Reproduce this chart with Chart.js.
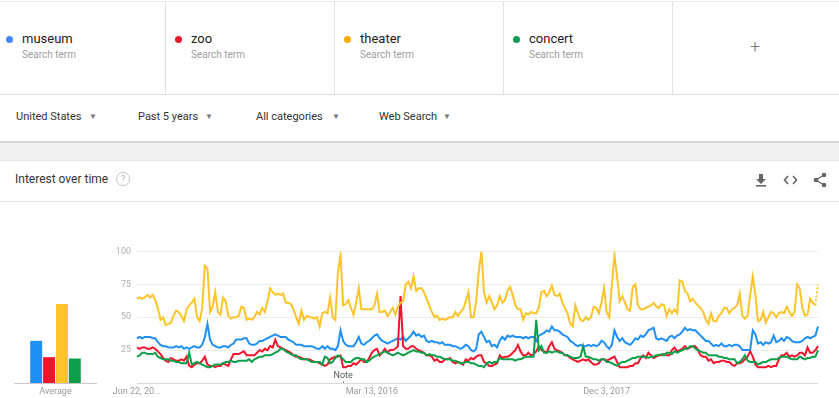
<!DOCTYPE html>
<html>
<head>
<meta charset="utf-8">
<script src="https://cdn.jsdelivr.net/npm/chart.js@4.4.1/dist/chart.umd.min.js"></script>
<style>
  body { margin: 0; width: 839px; height: 398px; overflow: hidden; background: #fff; font-family: Roboto, Arial, sans-serif; position: relative; }
  .abs { position: absolute; }
  .vline { position: absolute; top: 1px; width: 1px; height: 93px; background: #e3e3e3; }
  .dot { position: absolute; width: 7px; height: 7px; border-radius: 50%; }
  .term { position: absolute; font-size: 13px; color: #222; }
  .sub { position: absolute; font-size: 10px; color: #9e9e9e; }
  .filter { position: absolute; top: 110px; font-size: 11px; color: #333; }
  .arrow { position: absolute; top: 112px; font-size: 8px; color: #777; }
</style>
</head>
<body>
<!-- search term row -->
<div class="abs" style="left:0;top:1px;width:839px;height:1px;background:#ececec"></div>
<div class="abs" style="left:0;top:94px;width:839px;height:1px;background:#e0e0e0"></div>
<div class="vline" style="left:165px"></div>
<div class="vline" style="left:334px"></div>
<div class="vline" style="left:503px"></div>
<div class="vline" style="left:672px"></div>
<div id="terms"></div>
<div class="abs" style="left:750px;top:36px;font-size:18px;color:#777;font-weight:300">+</div>

<!-- filter row -->
<div class="filter" style="left:16px">United States</div><div class="arrow" style="left:89px">&#9660;</div>
<div class="filter" style="left:138px">Past 5 years</div><div class="arrow" style="left:205px">&#9660;</div>
<div class="filter" style="left:256px">All categories</div><div class="arrow" style="left:332px">&#9660;</div>
<div class="filter" style="left:379px">Web Search</div><div class="arrow" style="left:443px">&#9660;</div>
<div class="abs" style="left:0;top:141px;width:839px;height:2px;background:#d6d6d6"></div>
<div class="abs" style="left:0;top:143px;width:839px;height:17px;background:#f1f1f1"></div>
<div class="abs" style="left:0;top:160px;width:839px;height:1px;background:#e6e6e6"></div>

<!-- card header -->
<div class="abs" style="left:15px;top:172px;font-size:12px;color:#333">Interest over time</div>
<div class="abs" style="left:116px;top:172px;width:12px;height:12px;border:1px solid #c4c4c4;border-radius:50%;font-size:9px;color:#b0b0b0;text-align:center;line-height:12px">?</div>
<svg class="abs" style="left:754px;top:173px" width="14" height="14" viewBox="0 0 14 14">
  <path d="M5 1h4v5h3l-5 5-5-5h3z" fill="#666"/><rect x="2" y="12" width="10" height="1.6" fill="#666"/>
</svg>
<svg class="abs" style="left:783px;top:174px" width="15" height="12" viewBox="0 0 15 12">
  <path d="M5 2L1.5 6 5 10M10 2l3.5 4-3.5 4" stroke="#666" stroke-width="1.6" fill="none"/>
</svg>
<svg class="abs" style="left:812px;top:172px" width="16" height="16" viewBox="0 0 16 16">
  <circle cx="12" cy="3" r="2.3" fill="#666"/><circle cx="4" cy="8" r="2.3" fill="#666"/><circle cx="12" cy="13" r="2.3" fill="#666"/>
  <path d="M12 3L4 8l8 5" stroke="#666" stroke-width="1.3" fill="none"/>
</svg>
<div class="abs" style="left:0;top:201px;width:839px;height:1px;background:#e6e6e6"></div>

<!-- charts -->
<div class="abs" style="left:14px;top:240px;width:83px;height:158px"><canvas id="avgChart"></canvas></div>
<div class="abs" style="left:100px;top:240px;width:725px;height:158px"><canvas id="trendChart"></canvas></div>

<script>
// search terms and colours
const terms = ["museum", "zoo", "theater", "concert"];
const dotColors = ["#4285f4", "#e8192c", "#f9ab00", "#0f9d58"];
const lineColors = ["#1e8ff5", "#f2142c", "#fcc42a", "#0d9e4a"];

// weekly interest, Jun 22 2014 onwards
const museum = [
  34,35,34,35,35,35,34,34,31,29,28,28,27,27,27,28,27,28,26,27,26,27,28,27,27,29,35,45,33,29,28,27,27,28,28,27,29,30,33,33,33,34,34,30,
  29,29,30,32,32,33,34,35,36,37,36,35,35,35,33,32,31,29,29,29,28,28,28,28,27,26,26,28,26,28,26,26,25,28,40,32,29,28,28,28,31,35,30,29,
  31,32,34,36,37,34,32,31,30,31,32,33,34,33,35,32,34,36,39,36,37,35,36,32,31,32,31,31,30,31,29,29,29,28,28,27,26,27,29,28,25,24,26,37,
  39,35,31,32,28,29,27,32,35,33,36,35,36,35,35,35,34,35,34,35,35,32,36,37,38,40,39,43,40,40,39,37,36,35,32,31,29,28,29,28,28,29,28,29,
  28,29,32,31,28,26,29,40,35,32,34,31,30,29,31,34,33,36,35,37,40,41,42,34,33,34,33,32,35,36,34,36,37,39,42,40,41,40,40,38,36,34,32,32,
  30,28,29,28,30,28,28,29,28,29,29,28,25,25,25,25,40,37,30,31,29,31,30,31,36,31,32,34,32,35,34,32,31,31,31,32,34,35,34,35,36,43
];
const zoo = [
  27,26,27,27,26,26,27,26,24,22,19,17,16,19,18,17,17,18,17,20,13,12,14,15,15,17,20,14,13,13,12,13,13,15,14,13,18,22,22,22,23,24,21,21,
  21,21,23,25,24,26,25,28,27,33,28,27,26,25,24,23,21,20,20,19,18,18,18,17,16,16,15,14,13,14,18,19,20,20,21,12,12,13,13,15,14,16,18,16,
  16,19,23,25,26,21,23,26,23,25,25,26,28,66,28,26,26,28,28,26,25,24,23,21,21,20,17,18,16,16,18,18,19,16,15,16,15,14,18,17,19,18,20,21,
  21,16,15,13,13,14,15,21,19,20,20,21,23,25,29,24,21,21,23,21,22,24,28,25,24,23,28,31,26,25,24,23,21,21,19,18,17,16,17,18,17,18,16,14,
  14,15,18,18,17,18,19,20,16,12,12,12,12,13,13,15,15,19,21,19,23,21,19,20,21,21,22,21,21,25,27,24,25,26,28,26,27,28,28,25,21,20,20,17,
  18,15,16,16,17,17,16,16,14,13,15,15,16,18,20,24,20,14,12,12,12,12,13,12,13,13,18,21,21,23,20,21,20,21,23,23,21,27,23,23,25,28
];
const theater = [
  64,65,64,65,67,65,67,63,57,48,50,44,45,46,51,55,54,51,47,56,59,61,64,50,47,57,89,87,54,58,69,54,52,65,62,51,49,50,50,51,58,57,48,49,
  48,50,54,52,57,54,62,72,69,67,68,67,68,61,61,60,56,50,45,55,48,51,50,50,49,50,43,53,54,53,65,50,48,84,97,59,60,63,57,52,61,72,56,56,
  56,56,56,59,68,54,54,55,51,54,57,52,58,61,62,75,77,72,81,70,72,72,69,64,59,54,50,51,48,49,48,49,50,50,54,51,54,56,62,69,50,50,62,85,
  100,69,61,66,61,56,59,66,61,63,70,73,67,59,56,56,48,53,52,54,53,53,57,69,70,66,69,74,67,66,68,61,57,53,45,43,59,53,48,47,50,48,50,58,
  57,53,61,72,54,50,75,97,81,62,66,61,56,55,73,75,59,56,56,57,58,59,61,58,57,60,59,51,56,53,56,53,78,77,70,68,62,64,61,59,57,54,48,45,
  53,47,47,51,53,57,57,53,56,57,59,68,51,49,51,67,81,67,47,48,54,46,50,54,53,50,53,54,53,58,54,51,54,75,72,57,51,52,64,61,59,75
];
const concert = [
  20,21,23,23,22,22,22,23,20,19,18,18,18,17,17,16,16,15,15,15,23,14,15,16,15,14,13,12,12,13,14,14,14,15,16,16,17,16,16,17,17,17,17,18,
  16,18,19,20,20,21,21,21,22,23,24,26,26,24,23,22,21,21,19,18,18,18,17,16,16,16,16,14,20,19,15,16,19,21,20,18,16,16,16,18,19,19,18,18,
  16,17,19,20,21,22,23,24,23,22,21,22,23,22,21,22,23,24,25,24,24,23,23,21,22,21,21,20,20,19,18,18,18,17,17,16,15,15,16,16,15,15,14,13,
  13,12,15,16,15,16,16,19,18,18,18,18,18,17,18,18,19,20,20,20,20,48,25,28,23,23,24,23,24,24,23,23,21,21,20,19,19,19,20,28,20,20,19,18,
  18,17,18,18,16,16,15,14,13,15,16,16,17,18,19,19,20,20,20,20,19,20,20,21,21,22,21,23,23,22,24,23,24,25,26,26,28,28,26,25,24,23,23,21,
  21,21,21,20,20,19,19,18,18,18,15,16,18,21,17,16,16,16,14,15,16,16,17,18,18,18,19,20,20,20,19,18,18,18,20,19,18,19,19,20,20,25
];
const averages = [31, 19, 58, 18];

// axis labels
const yTicks = [25, 50, 75, 100];
const tickIndex = [0, 90, 180];
const tickText = ["Jun 22, 20...", "Mar 13, 2016", "Dec 3, 2017"];
const noteIndex = 79;

// header cells
const termsBox = document.getElementById("terms");
terms.forEach((t, k) => {
  const x = 9 + k * 169;
  termsBox.insertAdjacentHTML("beforeend",
    `<div class="dot" style="left:${x - 3}px;top:36px;background:${dotColors[k]}"></div>` +
    `<div class="term" style="left:${x + 13}px;top:31px">${t}</div>` +
    `<div class="sub" style="left:${x + 13}px;top:49px">Search term</div>`);
});

// week labels
const start = new Date(2014, 5, 22);
const weeks = museum.map((_, i) => {
  const d = new Date(start.getTime() + i * 7 * 864e5);
  return d.toLocaleDateString("en-US", { month: "short", day: "numeric", year: "numeric" });
});

const FONT = "Roboto, Arial, sans-serif";
const last = museum.length - 1;

// "Note" marker under the lines
const notePlugin = {
  id: "note",
  afterDatasetsDraw(chart) {
    const { ctx, scales } = chart;
    const x = scales.x.getPixelForValue(noteIndex);
    const y0 = scales.y.getPixelForValue(0);
    ctx.save();
    ctx.fillStyle = "#555";
    ctx.font = "9px " + FONT;
    ctx.textAlign = "center";
    ctx.textBaseline = "middle";
    ctx.fillText("Note", x, y0 - 7);
    ctx.strokeStyle = "#999";
    ctx.lineWidth = 1;
    ctx.beginPath();
    ctx.moveTo(Math.round(x) + 0.5, y0 - 2);
    ctx.lineTo(Math.round(x) + 0.5, y0);
    ctx.stroke();
    ctx.restore();
  }
};

const series = [museum, zoo, theater, concert];
const drawOrder = [3, 2, 1, 0];

new Chart(document.getElementById("trendChart"), {
  type: "line",
  data: {
    labels: weeks,
    datasets: series.map((s, k) => ({
      label: terms[k],
      data: s,
      borderColor: lineColors[k],
      borderWidth: 2,
      pointRadius: 0,
      tension: 0,
      order: drawOrder[k],
      segment: k === 2 ? { borderDash: c => (c.p1DataIndex === last ? [2, 2] : undefined) } : undefined
    }))
  },
  options: {
    responsive: true,
    maintainAspectRatio: false,
    animation: false,
    layout: { padding: { top: 7, right: 7 } },
    plugins: { legend: { display: false }, tooltip: { enabled: false } },
    scales: {
      x: {
        grid: { display: false, drawTicks: false, tickLength: 0 },
        border: { display: false },
        ticks: {
          autoSkip: false,
          maxRotation: 0,
          minRotation: 0,
          padding: 3,
          color: "#9a9a9a",
          font: { family: FONT, size: 9 },
          callback: (v, i) => {
            const j = tickIndex.indexOf(i);
            return j >= 0 ? tickText[j] : null;
          }
        },
        afterFit: s => { s.height = 15; }
      },
      y: {
        min: 0,
        max: 100,
        afterBuildTicks: s => { s.ticks = [0].concat(yTicks).map(v => ({ value: v })); },
        grid: {
          drawTicks: false,
          color: c => (c.tick.value === 0 ? "#d8d8d8" : "#ececec")
        },
        border: { display: false },
        ticks: {
          padding: 6,
          color: "#b0b0b0",
          font: { family: FONT, size: 9 },
          callback: v => (v === 0 ? "" : v)
        },
        afterFit: s => { s.width = 37; }
      }
    }
  },
  plugins: [notePlugin]
});

new Chart(document.getElementById("avgChart"), {
  type: "bar",
  data: {
    labels: ["Average"],
    datasets: averages.map((v, k) => ({
      label: terms[k],
      data: [v],
      backgroundColor: lineColors[k],
      barPercentage: 0.93,
      categoryPercentage: 0.62
    }))
  },
  options: {
    responsive: true,
    maintainAspectRatio: false,
    animation: false,
    layout: { padding: { top: 7 } },
    plugins: { legend: { display: false }, tooltip: { enabled: false } },
    scales: {
      x: {
        grid: { display: false, drawTicks: false, tickLength: 0 },
        border: { display: true, color: "#c8c8c8" },
        ticks: { padding: 3, color: "#9a9a9a", font: { family: FONT, size: 9 } },
        afterFit: s => { s.height = 15; }
      },
      y: { display: false, min: 0, max: 100 }
    }
  }
});
</script>
</body>
</html>
